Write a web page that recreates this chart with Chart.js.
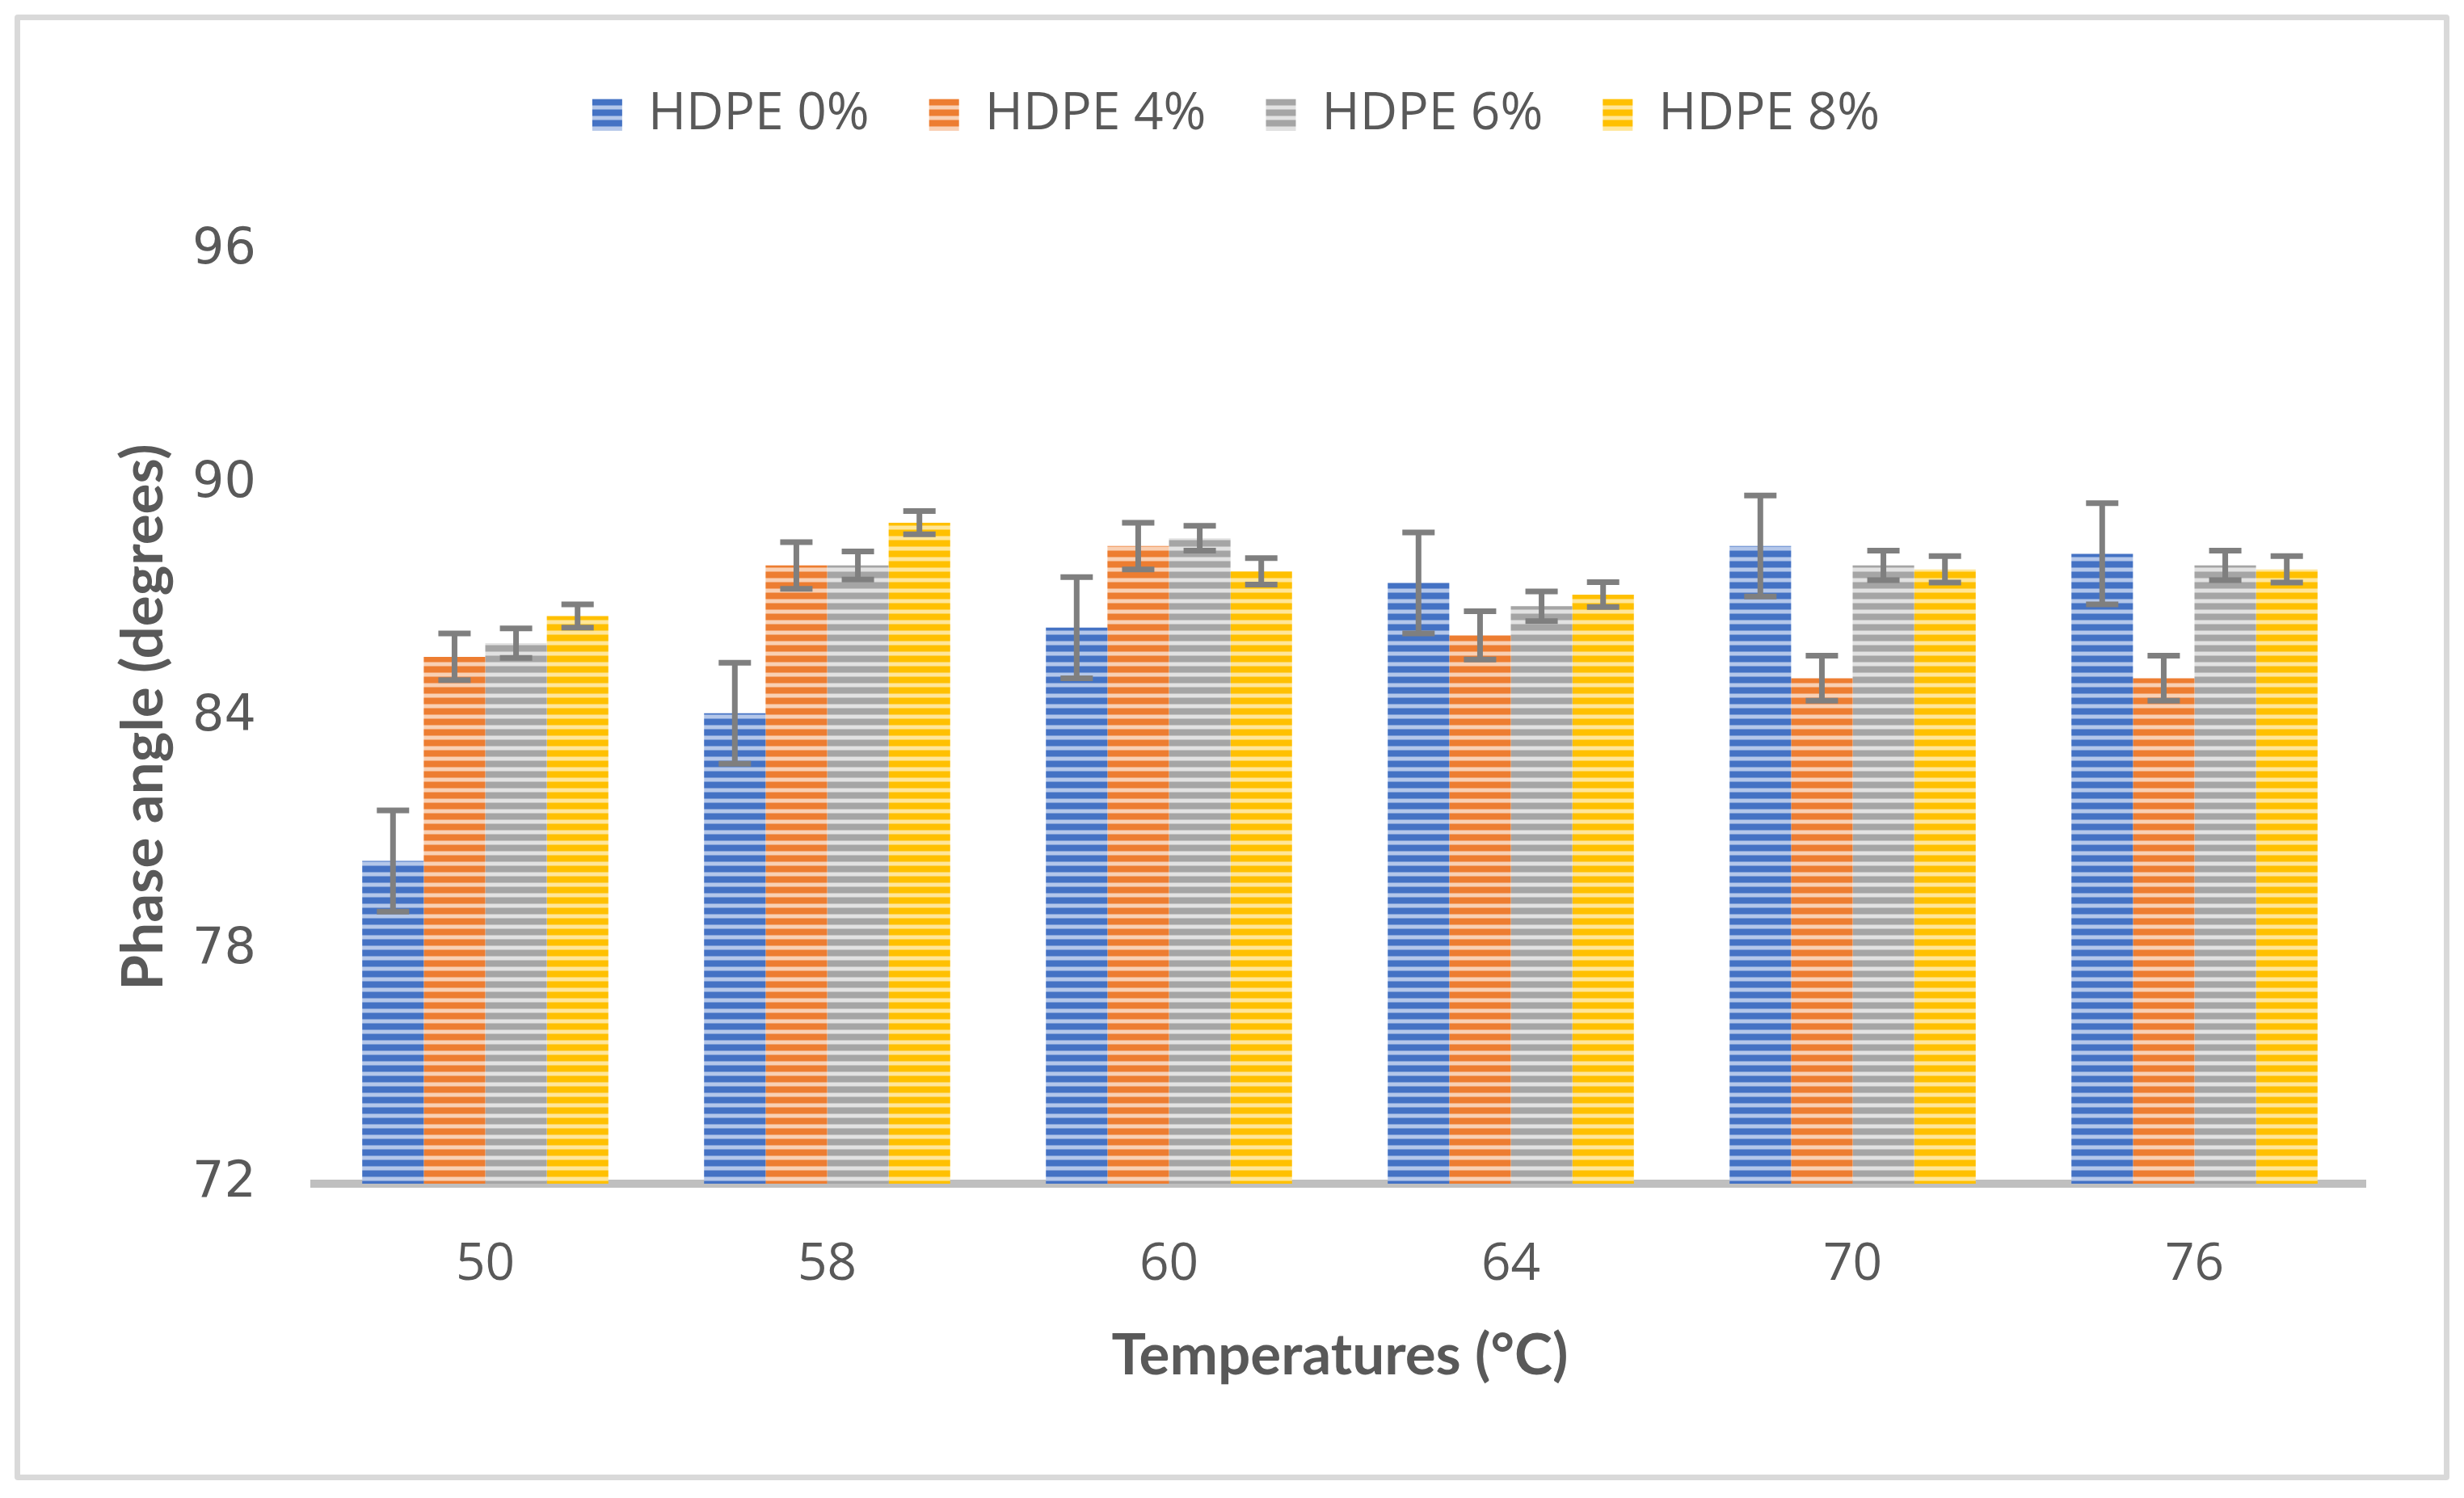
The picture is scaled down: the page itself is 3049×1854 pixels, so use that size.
<!DOCTYPE html>
<html>
<head>
<meta charset="utf-8">
<script src="https://cdn.jsdelivr.net/npm/chart.js@4.4.0/dist/chart.umd.min.js"></script>
<style>
  html, body { margin: 0; padding: 0; background: #fff; }
  #wrap { position: relative; width: 3049px; height: 1854px; }
  #frame { position: absolute; left: 18px; top: 18px; width: 3013px; height: 1814px;
           box-sizing: border-box; border: 7px solid #d9d9d9; border-radius: 4px; pointer-events: none; }
</style>
</head>
<body>
<div id="wrap">
  <canvas id="chart" width="3049" height="1854"></canvas>
  <div id="frame"></div>
</div>
<script>
// data
const temperatures = ['50', '58', '60', '64', '70', '76'];
const hdpe0 = [80.3, 84.1, 86.3, 87.45, 88.4, 88.2];
const hdpe4 = [85.55, 87.9, 88.4, 86.1, 85.0, 85.0];
const hdpe6 = [85.9, 87.9, 88.6, 86.85, 87.9, 87.9];
const hdpe8 = [86.6, 89.0, 87.75, 87.15, 87.8, 87.8];
const err0 = [1.3, 1.3, 1.3, 1.3, 1.3, 1.3];
const err4 = [0.6, 0.6, 0.6, 0.62, 0.58, 0.58];
const err6 = [0.38, 0.36, 0.32, 0.38, 0.38, 0.38];
const err8 = [0.3, 0.3, 0.34, 0.32, 0.34, 0.34];
const yTicks = [72, 78, 84, 90, 96];

// horizontal stripe fill like the excel pattern
function stripes(base, light) {
  const c = document.createElement('canvas');
  c.width = 8; c.height = 13;
  const g = c.getContext('2d');
  g.fillStyle = base;
  g.fillRect(0, 0, 8, 13);
  g.fillStyle = light;
  g.globalAlpha = 0.5;
  g.fillRect(0, 0, 8, 1);
  g.fillRect(0, 5, 8, 1);
  g.globalAlpha = 1;
  g.fillRect(0, 1, 8, 4);
  return g.createPattern(c, 'repeat');
}

const ctx = document.getElementById('chart').getContext('2d');

const errorBars = {
  id: 'errorBars',
  afterDatasetsDraw(chart) {
    const y = chart.scales.y;
    const c = chart.ctx;
    c.save();
    c.strokeStyle = '#7f7f7f';
    c.lineWidth = 7;
    chart.data.datasets.forEach((ds, i) => {
      const meta = chart.getDatasetMeta(i);
      meta.data.forEach((bar, j) => {
        const v = ds.data[j], e = ds.errors[j];
        const top = y.getPixelForValue(v + e);
        const bot = y.getPixelForValue(v - e);
        c.beginPath();
        c.moveTo(bar.x, top); c.lineTo(bar.x, bot);
        c.moveTo(bar.x - 20, top); c.lineTo(bar.x + 20, top);
        c.moveTo(bar.x - 20, bot); c.lineTo(bar.x + 20, bot);
        c.stroke();
      });
    });
    c.restore();
  }
};

// push the plot area down below the legend
const legendGap = {
  id: 'legendGap',
  beforeInit(chart) {
    const fit = chart.legend.fit;
    chart.legend.fit = function () {
      fit.bind(chart.legend)();
      this.height += 126;
    };
  }
};

const myChart = new Chart(ctx, {
  type: 'bar',
  data: {
    labels: temperatures,
    datasets: [
      { label: 'HDPE 0%', data: hdpe0, errors: err0, backgroundColor: stripes('#4472c4', '#b4c7ea') },
      { label: 'HDPE 4%', data: hdpe4, errors: err4, backgroundColor: stripes('#ed7d31', '#f9d0b3') },
      { label: 'HDPE 6%', data: hdpe6, errors: err6, backgroundColor: stripes('#a5a5a5', '#e2e2e2') },
      { label: 'HDPE 8%', data: hdpe8, errors: err8, backgroundColor: stripes('#ffc000', '#ffe699') }
    ]
  },
  options: {
    responsive: false,
    animation: false,
    devicePixelRatio: 1,
    layout: { padding: { left: 132, right: 122, top: 36, bottom: 129 } },
    datasets: { bar: { categoryPercentage: 0.72, barPercentage: 1.0, borderWidth: 0 } },
    plugins: {
      legend: {
        position: 'top',
        labels: {
          boxWidth: 37, boxHeight: 39, padding: 74,
          color: '#595959',
          font: { family: 'Open Sans', size: 64 }
        }
      },
      tooltip: { enabled: false }
    },
    scales: {
      x: {
        grid: { display: false, drawTicks: false },
        border: { display: true, color: '#bfbfbf', width: 10 },
        ticks: { color: '#595959', padding: 62, font: { family: 'Open Sans', size: 64 } },
        title: { display: true, text: 'Temperatures (°C)', color: '#595959',
                 font: { family: 'Lato', size: 71, weight: 'bold' } },
        afterFit(scale) { scale.height = 260; }
      },
      y: {
        min: 72, max: 96,
        afterBuildTicks(scale) { scale.ticks = yTicks.map(v => ({ value: v })); },
        grid: { display: false, drawTicks: false },
        border: { display: false },
        ticks: { color: '#595959', padding: 72, font: { family: 'DejaVu Sans', size: 62 } },
        title: { display: true, text: 'Phase angle (degrees)', color: '#595959',
                 font: { family: 'Lato', size: 71, weight: 'bold' } },
        afterFit(scale) { scale.width = 257; }
      }
    }
  },
  plugins: [errorBars, legendGap]
});
</script>
</body>
</html>
